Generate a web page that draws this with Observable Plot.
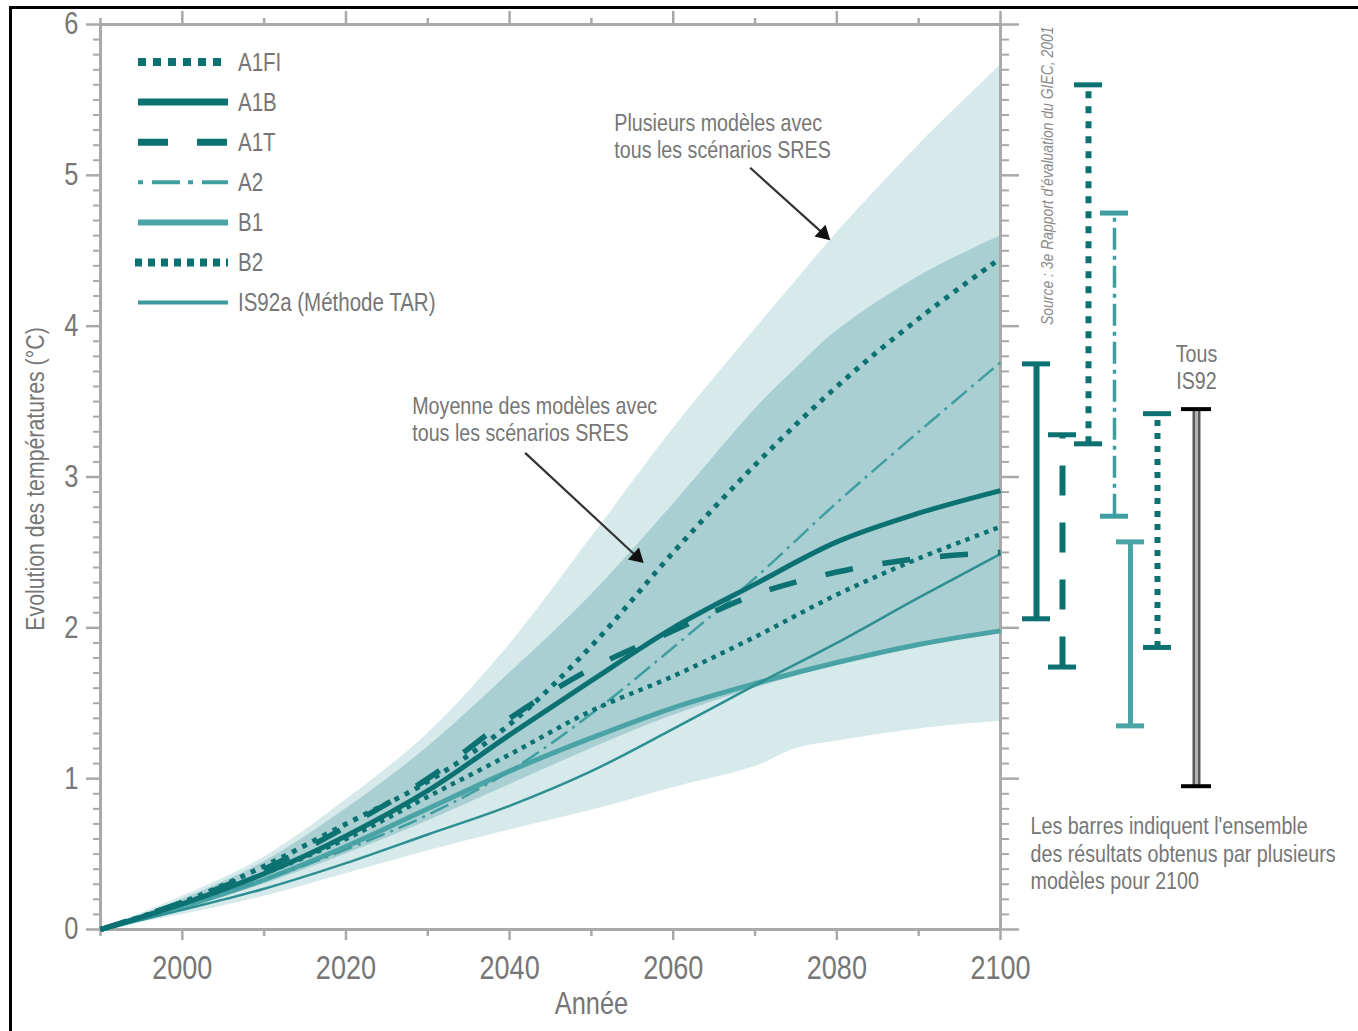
<!DOCTYPE html>
<html>
<head>
<meta charset="utf-8">
<script src="https://cdn.jsdelivr.net/npm/d3@7"></script>
<script src="https://cdn.jsdelivr.net/npm/@observablehq/plot@0.6"></script>
<style>
  body { margin: 0; background: #fff; }
  #wrap { position: relative; width: 1358px; height: 1031px; overflow: hidden; background: #fff; }
  #row { position: absolute; left: 0; top: 0; display: flex; }
  #legend { position: absolute; left: 0; top: 0; }
  #border { position: absolute; left: 9px; top: 6px; width: 1400px; height: 1100px;
            border-left: 3px solid #000; border-top: 3px solid #000; pointer-events: none; }
</style>
</head>
<body>
<div id="wrap">
  <div id="row"></div>
  <svg id="legend" width="480" height="330"></svg>
  <div id="border"></div>
</div>
<script>
// ---------- DATA ----------
const years = [1990, 2000, 2010, 2020, 2030, 2040, 2050, 2060, 2070, 2080, 2090, 2100];
const A1FI  = [0, 0.18, 0.42, 0.70, 0.98, 1.36, 1.88, 2.50, 3.08, 3.60, 4.05, 4.45];
const A1B   = [0, 0.17, 0.37, 0.62, 0.92, 1.29, 1.65, 2.00, 2.29, 2.57, 2.76, 2.91];
const A1T   = [0, 0.18, 0.40, 0.68, 1.00, 1.40, 1.73, 1.98, 2.22, 2.37, 2.46, 2.50];
const A2    = [0, 0.16, 0.33, 0.53, 0.76, 1.05, 1.43, 1.87, 2.33, 2.83, 3.30, 3.76];
const B1    = [0, 0.15, 0.33, 0.55, 0.80, 1.05, 1.27, 1.47, 1.63, 1.77, 1.89, 1.98];
const B2    = [0, 0.17, 0.37, 0.60, 0.88, 1.16, 1.45, 1.68, 1.94, 2.22, 2.46, 2.67];
const IS92a = [0, 0.13, 0.27, 0.44, 0.63, 0.82, 1.05, 1.33, 1.62, 1.90, 2.20, 2.49];

const bandYears  = [1990, 2000, 2010, 2020, 2030, 2040, 2050, 2060, 2070, 2075, 2080, 2090, 2100];
const outerLow   = [0, 0.10, 0.22, 0.37, 0.52, 0.66, 0.79, 0.94, 1.08, 1.20, 1.25, 1.33, 1.38];
const outerHigh  = [0, 0.22, 0.48, 0.86, 1.30, 1.89, 2.60, 3.32, 3.98, 4.30, 4.62, 5.20, 5.73];
const innerLow   = [0, 0.14, 0.30, 0.50, 0.72, 0.96, 1.20, 1.42, 1.60, 1.68, 1.76, 1.88, 1.97];
const innerHigh  = [0, 0.20, 0.45, 0.80, 1.21, 1.70, 2.22, 2.82, 3.45, 3.72, 3.97, 4.33, 4.60];

const barNames = ["A1B", "A1T", "A1FI", "A2", "B1", "B2", "IS92"];
const barLow   = [2.06, 1.74, 3.22, 2.74, 1.35, 1.87, 0.95];
const barHigh  = [3.75, 3.28, 5.60, 4.75, 2.57, 3.42, 3.45];

const yTicks = [0, 1, 2, 3, 4, 5, 6];
const xTicks = [2000, 2020, 2040, 2060, 2080, 2100];
const xMinorTicks = [1990, 2010, 2030, 2050, 2070, 2090];
const legendLabels = ["A1FI", "A1B", "A1T", "A2", "B1", "B2", "IS92a (Méthode TAR)"];

// ---------- STYLES ----------
const FONT = "'Liberation Sans', Arial, sans-serif";
const NARROW = 0.82;           // horizontal compression of every text (narrow face look)
const TXT = "#767676";
const AX = "#a9a9a9";
const DARK = "#0b7171";
const LIGHT = "#3f9ea0";
const seriesStyle = {
  "A1FI":  {stroke: DARK, width: 5, dash: "5,6.5"},
  "A1B":   {stroke: DARK, width: 5, dash: null},
  "A1T":   {stroke: DARK, width: 5.5, dash: "28,30"},
  "A2":    {stroke: LIGHT, width: 2.5, dash: "20,6,3,6"},
  "B1":    {stroke: "#4aa4a6", width: 5, dash: null},
  "B2":    {stroke: DARK, width: 4.5, dash: "4.5,5.5"},
  "IS92a": {stroke: "#2d8f91", width: 2.5, dash: null}
};
const seriesValues = {A1FI, A1B, A1T, A2, B1, B2, IS92a};
const drawOrder = ["B1", "IS92a", "A2", "B2", "A1T", "A1B", "A1FI"];

const band = bandYears.map((year, i) => ({year, oLo: outerLow[i], oHi: outerHigh[i], iLo: innerLow[i], iHi: innerHigh[i]}));
const minorY = d3.range(1, 60).filter(i => i % 10).map(i => i / 10);

const lineMarks = drawOrder.map(name => {
  const s = seriesStyle[name];
  const tbl = years.map((year, i) => ({year, v: seriesValues[name][i]}));
  return Plot.line(tbl, {x: "year", y: "v", stroke: s.stroke, strokeWidth: s.width,
    strokeDasharray: s.dash || undefined, curve: "catmull-rom", strokeLinecap: "butt", strokeLinejoin: "round"});
});

const noLabel = () => "";
const main = Plot.plot({
  width: 1020, height: 1031,
  marginLeft: 100, marginRight: 20, marginTop: 24, marginBottom: 102,
  style: {fontFamily: FONT, background: "transparent", overflow: "visible"},
  x: {domain: [1990, 2100]},
  y: {domain: [0, 6]},
  marks: [
    Plot.areaY(band, {x: "year", y1: "oLo", y2: "oHi", fill: "#d6eaeb", curve: "catmull-rom"}),
    Plot.areaY(band, {x: "year", y1: "iLo", y2: "iHi", fill: "#aacfd3", curve: "catmull-rom"}),
    Plot.ruleX([1990, 2100], {stroke: AX, strokeWidth: 3}),
    Plot.ruleY([0, 6], {stroke: AX, strokeWidth: 3}),
    Plot.axisY({ticks: yTicks, tickSize: 14, tickPadding: 8, fontSize: 31, tickFormat: d => String(d), color: AX, fill: TXT, strokeWidth: 2.5, label: null}),
    Plot.axisY({ticks: minorY, tickSize: 7, tickFormat: noLabel, color: AX, strokeWidth: 2, label: null}),
    Plot.axisY({anchor: "right", ticks: yTicks, tickSize: 18, tickFormat: noLabel, color: AX, strokeWidth: 2.5, label: null}),
    Plot.axisY({anchor: "right", ticks: minorY, tickSize: 8, tickFormat: noLabel, color: AX, strokeWidth: 2, label: null}),
    Plot.axisX({ticks: xTicks, tickSize: 11, tickPadding: 15, fontSize: 33, tickFormat: d => String(d), color: AX, fill: TXT, strokeWidth: 2.5, label: null}),
    Plot.axisX({ticks: xMinorTicks, tickSize: 7, tickFormat: noLabel, color: AX, strokeWidth: 2.5, label: null}),
    Plot.axisX({anchor: "top", ticks: xTicks, tickSize: 14, tickFormat: noLabel, color: AX, strokeWidth: 2.5, label: null}),
    Plot.axisX({anchor: "top", ticks: xMinorTicks, tickSize: 7, tickFormat: noLabel, color: AX, strokeWidth: 2.5, label: null}),
    ...lineMarks,
    // annotations
    Plot.text(["Plusieurs modèles avec\ntous les scénarios SRES"], {x: 2052.8, y: 5.262, textAnchor: "start", lineAnchor: "middle", lineHeight: 1.12, fontSize: 24, fill: TXT}),
    Plot.text(["Moyenne des modèles avec\ntous les scénarios SRES"], {x: 2028.1, y: 3.385, textAnchor: "start", lineAnchor: "middle", lineHeight: 1.12, fontSize: 24, fill: TXT}),
    Plot.link([{x1: 2069.4, y1: 5.05, x2: 2078.4, y2: 4.61}, {x1: 2041.9, y1: 3.16, x2: 2055.6, y2: 2.47}],
      {x1: "x1", y1: "y1", x2: "x2", y2: "y2", stroke: "#333", strokeWidth: 2.2}),
    Plot.dot([{x: 2079.2, y: 4.57}, {x: 2056.4, y: 2.43}], {x: "x", y: "y", symbol: "triangle", r: 6, fill: "#111", stroke: "none", rotate: 133, dx: -6.9, dy: -6.3}),
    // axis titles
    Plot.text(["Evolution des températures (°C)"], {frameAnchor: "left", textAnchor: "middle", rotate: -90, dx: -65, dy: 2, fontSize: 26, fill: TXT}),
    Plot.text(["Année"], {x: 2050, frameAnchor: "bottom", dy: 84, fontSize: 31, fill: TXT})
  ]
});

// ---------- RIGHT BARS ----------
const barTable = barNames.map((name, i) => ({name, lo: barLow[i], hi: barHigh[i]}));
const barStyle = {
  "A1B":  {stroke: DARK, width: 6, dash: null, nudge: 0},
  "A1T":  {stroke: DARK, width: 6, dash: "30,27", nudge: 0},
  "A1FI": {stroke: DARK, width: 6, dash: "7,8", nudge: 0},
  "A2":   {stroke: LIGHT, width: 3.5, dash: "22,6,4,6", nudge: 0},
  "B1":   {stroke: "#4aa4a6", width: 5, dash: null, nudge: -10},
  "B2":   {stroke: DARK, width: 6, dash: "6,7", nudge: -9},
  "IS92": {stroke: "#5a5a5a", width: 8, dash: null, nudge: 4}
};
const barMarks = [];
for (const name of barNames) {
  const d = barTable.filter(r => r.name === name);
  const s = barStyle[name];
  if (name === "IS92") {
    barMarks.push(Plot.ruleX(d, {x: "name", y1: "lo", y2: "hi", stroke: s.stroke, strokeWidth: s.width, dx: s.nudge}));
    barMarks.push(Plot.ruleX(d, {x: "name", y1: "lo", y2: "hi", stroke: "#b4b4b4", strokeWidth: 3, dx: s.nudge}));
    barMarks.push(Plot.tickY(d, {x: "name", y: "lo", stroke: "#000", strokeWidth: 4, insetLeft: -2, insetRight: -2, dx: s.nudge}));
    barMarks.push(Plot.tickY(d, {x: "name", y: "hi", stroke: "#000", strokeWidth: 4, insetLeft: -2, insetRight: -2, dx: s.nudge}));
  } else {
    barMarks.push(Plot.ruleX(d, {x: "name", y1: "lo", y2: "hi", stroke: s.stroke, strokeWidth: s.width, strokeDasharray: s.dash || undefined, dx: s.nudge}));
    barMarks.push(Plot.tickY(d, {x: "name", y: "lo", stroke: s.stroke, strokeWidth: 5, insetLeft: -1, insetRight: -1, dx: s.nudge}));
    barMarks.push(Plot.tickY(d, {x: "name", y: "hi", stroke: s.stroke, strokeWidth: 5, insetLeft: -1, insetRight: -1, dx: s.nudge}));
  }
}
const bars = Plot.plot({
  width: 338, height: 1031,
  marginLeft: 3, marginRight: 153, marginTop: 24, marginBottom: 102,
  style: {fontFamily: FONT, background: "transparent", overflow: "visible"},
  x: {type: "band", domain: barNames, padding: 0, axis: null},
  y: {domain: [0, 6], axis: null},
  marks: [
    ...barMarks,
    Plot.text(barTable.filter(r => r.name === "IS92"), {x: "name", y: "hi", text: () => "Tous\nIS92", dx: 4, dy: -20, lineAnchor: "bottom", lineHeight: 1.15, fontSize: 24, fill: TXT}),
    Plot.text(["Les barres indiquent l'ensemble\ndes résultats obtenus par plusieurs\nmodèles pour 2100"],
      {frameAnchor: "bottom-left", dx: 7, dy: -115, textAnchor: "start", lineAnchor: "top", lineHeight: 1.15, fontSize: 24, fill: TXT}),
    Plot.text(["Source : 3e Rapport d'évaluation du GIEC, 2001"],
      {frameAnchor: "top-left", dx: 17, dy: 2, rotate: -90, textAnchor: "end", fontSize: 17, fontStyle: "italic", fill: "#8a8a8a"})
  ]
});

const row = document.getElementById("row");
row.appendChild(main);
row.appendChild(bars);

// ---------- LEGEND ----------
const legendStyle = {
  "A1FI": {stroke: DARK, width: 8, dash: "8,7", x0: 138},
  "A1B": {stroke: DARK, width: 7, dash: null, x0: 138},
  "A1T": {stroke: DARK, width: 7, dash: "30,29", x0: 138},
  "A2": {stroke: LIGHT, width: 4, dash: "5,9,28,8", x0: 138},
  "B1": {stroke: "#4aa4a6", width: 6, dash: null, x0: 138},
  "B2": {stroke: DARK, width: 8, dash: "7,6", x0: 135},
  "IS92a (Méthode TAR)": {stroke: "#3a9a9c", width: 4, dash: null, x0: 138}
};
const lg = d3.select("#legend");
legendLabels.forEach((label, i) => {
  const y = 62 + i * 40.1;
  const s = legendStyle[label];
  lg.append("line").attr("x1", s.x0).attr("x2", 228).attr("y1", y).attr("y2", y)
    .attr("stroke", s.stroke).attr("stroke-width", s.width)
    .attr("stroke-dasharray", s.dash);
  lg.append("text").attr("x", 238).attr("y", y).attr("dy", "0.35em")
    .attr("fill", TXT).attr("font-family", FONT).attr("font-size", 25).text(label);
});

// ---------- narrow every text (Helvetica-Narrow look), scaling about its own anchor ----------
function narrow(root, k) {
  root.querySelectorAll("text").forEach(t => {
    const x = parseFloat(t.getAttribute("x")) || 0;
    const y = parseFloat(t.getAttribute("y")) || 0;
    const tr = t.getAttribute("transform") || "";
    t.setAttribute("transform", `${tr} translate(${x},${y}) scale(${k},1) translate(${-x},${-y})`.trim());
  });
}
narrow(document.getElementById("wrap"), NARROW);
</script>
</body>
</html>
